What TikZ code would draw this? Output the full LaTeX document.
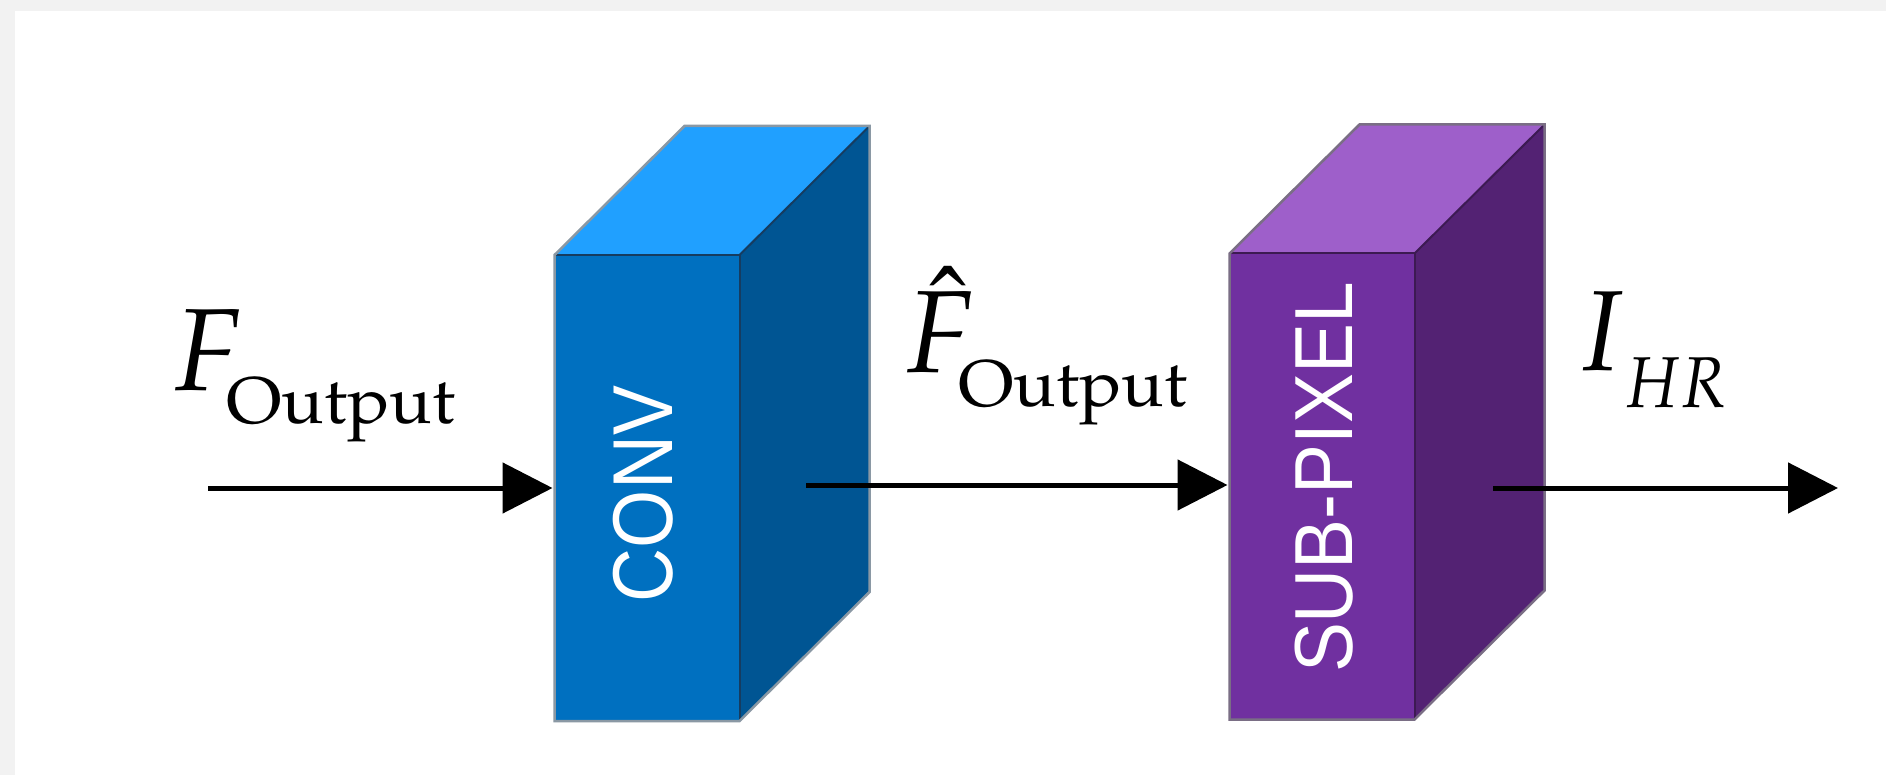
\documentclass[tikz,border=0pt]{standalone}
\usepackage{mathpazo}
\usepackage[no-math]{fontspec}
\usepackage{graphicx}
\newfontfamily\boxfont{Liberation Sans}
\usetikzlibrary{arrows.meta}
\definecolor{bgray}{HTML}{F2F2F2}
\definecolor{convfront}{HTML}{0070C0}
\definecolor{convtop}{HTML}{20A0FF}
\definecolor{convside}{HTML}{005593}
\definecolor{convedge}{HTML}{163C60}
\definecolor{convout}{HTML}{8A98A4}
\definecolor{subfront}{HTML}{7030A0}
\definecolor{subtop}{HTML}{9E5FCA}
\definecolor{subside}{HTML}{532273}
\definecolor{subedge}{HTML}{3C1A52}
\definecolor{subout}{HTML}{7A6E85}
\begin{document}
\begin{tikzpicture}[x=1pt,y=-1pt,
  front/.style={rectangle, minimum width=185pt, minimum height=466pt, inner sep=0pt, outer sep=0pt},
  flow/.style={line width=5pt, -{Triangle[length=50pt,width=50pt]}},
  lbl/.style={anchor=base west, inner sep=0pt, outer sep=0pt},
  boxtext/.style={text=white, rotate=90, inner sep=0pt}
]
\useasboundingbox (0,0) rectangle (1886,775);
\fill[bgray] (0,0) rectangle (1886,775);
\fill[white] (15,11) rectangle (1886,775);

% CONV block
\node[front, fill=convfront] (conv) at (647,488) {};
\fill[convtop] (conv.north west) -- (conv.north east) -- ++(130,-129) -- ++(-185,0) -- cycle;
\fill[convside] (conv.north east) -- ++(130,-129) -- ++(0,466) -- (conv.south east) -- cycle;
\draw[convedge, line width=2pt] (conv.north west) -- (conv.north east) -- (conv.south east);
\draw[convedge, line width=2pt] (conv.north east) -- ++(130,-129);
\draw[convout, line width=2.5pt, line join=miter] (conv.south west) -- (conv.north west) -- ++(130,-129) -- ++(185,0) -- ++(0,466) -- (conv.south east) -- cycle;
\node[boxtext, font=\boxfont\fontsize{85}{85}\selectfont] (convtxt) at ([xshift=-3.5pt,yshift=-6pt]conv.center) {\scalebox{0.88}[1]{CONV}};

% SUB-PIXEL block
\node[front, fill=subfront] (sub) at (1322,486.5) {};
\fill[subtop] (sub.north west) -- (sub.north east) -- ++(130,-129) -- ++(-185,0) -- cycle;
\fill[subside] (sub.north east) -- ++(130,-129) -- ++(0,466) -- (sub.south east) -- cycle;
\draw[subedge, line width=2pt] (sub.north west) -- (sub.north east) -- (sub.south east);
\draw[subedge, line width=2pt] (sub.north east) -- ++(130,-129);
\draw[subout, line width=2.5pt, line join=miter] (sub.south west) -- (sub.north west) -- ++(130,-129) -- ++(185,0) -- ++(0,466) -- (sub.south east) -- cycle;
\node[boxtext, font=\boxfont\fontsize{82.4}{82.4}\selectfont] (subtxt) at ([xshift=2.5pt,yshift=9pt]sub.center) {\scalebox{0.908}[1]{SUB-PIXEL}};

% connectors
\coordinate (in) at (208,488);
\coordinate (mid) at (806,485);
\coordinate (hr) at (1493,488);
\coordinate (out) at (1838,488);
\draw[flow, shorten >=2pt] (in) -- (in -| conv.west);
\draw[flow, shorten >=2pt] (mid) -- (mid -| sub.west);
\draw[flow] (hr) -- (out);

% labels
\node[lbl, font=\fontsize{117}{117}\selectfont] (lin) at (171,390)
  {\rlap{$F$}\hspace*{55pt}\raisebox{-33pt}{\fontsize{66}{66}\selectfont\scalebox{1.07}[1]{$\mathrm{Output}$}}};
\node[lbl, font=\fontsize{117}{117}\selectfont] (lmid) at (903,372)
  {\rlap{$\hat{F}$}\hspace*{55pt}\raisebox{-34pt}{\fontsize{66}{66}\selectfont\scalebox{1.07}[1]{$\mathrm{Output}$}}};
\node[lbl, font=\fontsize{114}{114}\selectfont] (lout) at (1575,370)
  {\rlap{$I$}\hspace*{49pt}\raisebox{-37pt}{\fontsize{72}{72}\selectfont\scalebox{0.9}[1]{$HR$}}};
\end{tikzpicture}
\end{document}
